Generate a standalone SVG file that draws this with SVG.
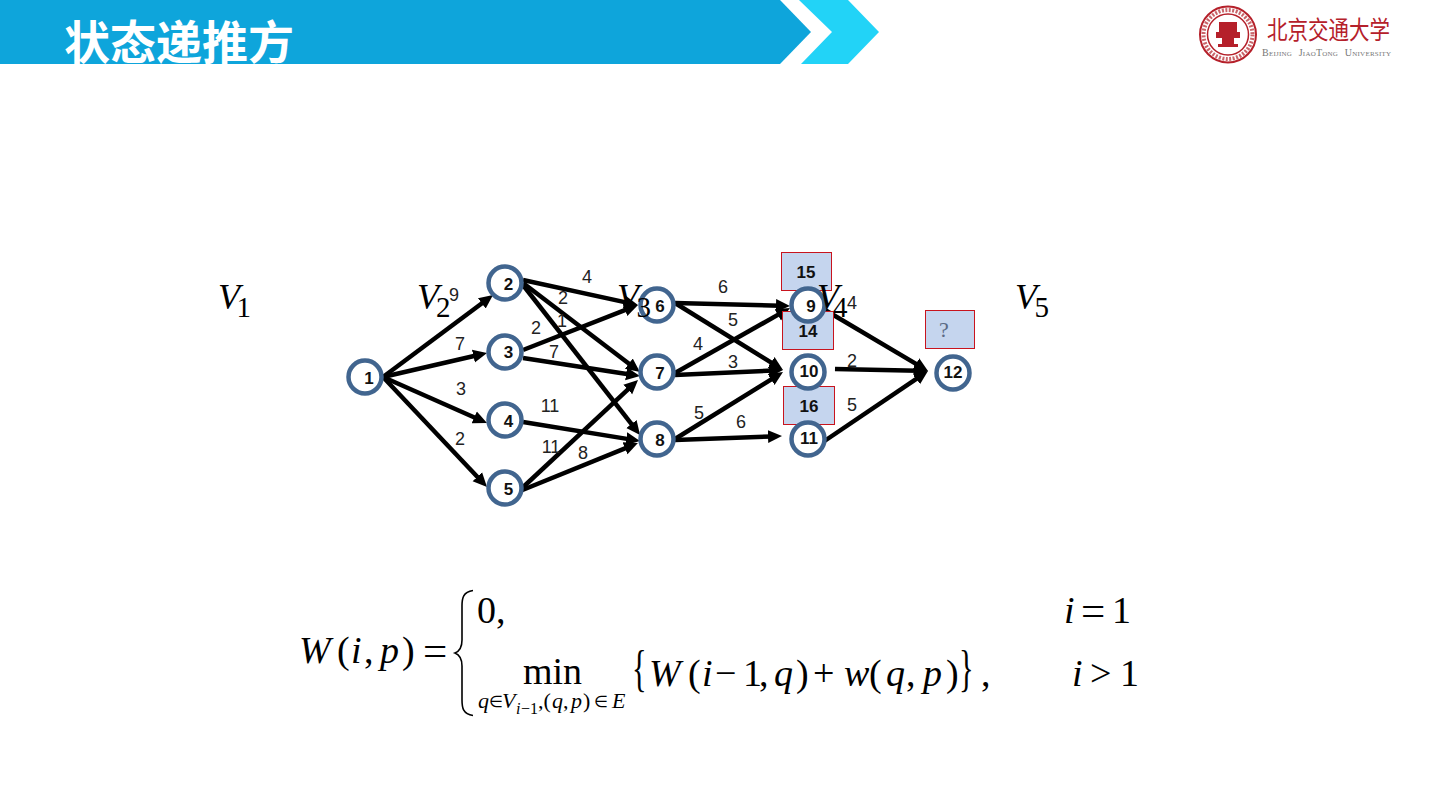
<svg xmlns="http://www.w3.org/2000/svg" width="1440" height="810" viewBox="0 0 1440 810">
<style>
.edge{stroke:#000;stroke-width:4.500;fill:none;marker-end:url(#arrow)}
.node circle{fill:#fff;stroke:#41658f;stroke-width:4.500}
.node text,.box text{font:bold 17px "Liberation Sans",Arial,sans-serif;fill:#111;text-anchor:middle}
.box rect{fill:#c5d5ee;stroke:#c8141e;stroke-width:1}
.w{font:18px "Liberation Sans",Arial,sans-serif;fill:#222;text-anchor:middle}
.m{font-family:"Liberation Serif","Times New Roman",serif;fill:#000}
.i{font-style:italic}
.f{font-size:38px}
.s{font-size:22px}
.e{font-size:16px}
.t{font-size:16px}
.vv{font-size:36px;font-style:italic}
.vs{font-size:29px}
</style>
<defs>
<marker id="arrow" markerUnits="userSpaceOnUse" markerWidth="16" markerHeight="16" refX="4" refY="8" orient="auto"><polygon points="0,1.500 14,8 0,14.500" fill="#000"/></marker>
<clipPath id="band"><rect x="0" y="0" width="790" height="64"/></clipPath>
</defs>
<rect width="1440" height="810" fill="#fff"/>
<g id="header">
<polygon points="0,0 780,0 811,32 780,64 0,64" fill="#0ea5db"/>
<polygon points="799,0 848,0 879,32 848,64 801,64 832,32" fill="#22d3f7"/>
<text x="64" y="59" clip-path="url(#band)" font-family="'Noto Sans CJK SC',sans-serif" font-weight="700" font-size="46" fill="#fff">状态递推方</text>
</g>
<g id="logo">
<circle cx="1228" cy="34.500" r="28" fill="#fff" stroke="#b5202a" stroke-width="2"/>
<circle cx="1228" cy="34.500" r="24.500" fill="none" stroke="#c9656a" stroke-width="4" stroke-dasharray="2 1.500"/>
<circle cx="1228" cy="34.500" r="20.500" fill="#fff" stroke="#b5202a" stroke-width="1.500"/>
<path d="M1219 22h18v10h3v6h-6v6h4v3h-20v-3h4v-6h-6v-6h3z" fill="#b5202a"/>
<text x="1267" y="39" textLength="123" lengthAdjust="spacingAndGlyphs" font-family="'Noto Sans CJK SC',sans-serif" font-size="25" fill="#b5202a">北京交通大学</text>
<text x="1262" y="56" textLength="129" lengthAdjust="spacing" font-family="'Liberation Serif',serif" font-size="10" style="font-variant:small-caps" word-spacing="4" fill="#777">Beijing JiaoTong University</text>
</g>
<g id="connectors">
<line class="edge" x1="383" y1="377" x2="485" y2="301"/>
<line class="edge" x1="383" y1="377" x2="477.300" y2="355.300"/>
<line class="edge" x1="383" y1="377" x2="477.900" y2="419"/>
<line class="edge" x1="383" y1="377" x2="480.100" y2="479.700"/>
<line class="edge" x1="523" y1="280" x2="628.200" y2="302.900"/>
<line class="edge" x1="523" y1="283" x2="632" y2="366"/>
<line class="edge" x1="523" y1="285" x2="633.900" y2="427.100"/>
<line class="edge" x1="523" y1="350" x2="628.700" y2="308.600"/>
<line class="edge" x1="523" y1="358" x2="630.100" y2="374.500"/>
<line class="edge" x1="523" y1="422" x2="630.100" y2="439.400"/>
<line class="edge" x1="520" y1="490" x2="630.700" y2="386.800"/>
<line class="edge" x1="520" y1="491" x2="628.700" y2="446.800"/>
<line class="edge" x1="675" y1="303" x2="780" y2="305.700"/>
<line class="edge" x1="675" y1="303" x2="774.500" y2="364.700"/>
<line class="edge" x1="675" y1="373" x2="781.300" y2="312.900"/>
<line class="edge" x1="675" y1="375" x2="773" y2="370.500"/>
<line class="edge" x1="675" y1="439" x2="774.500" y2="377.300"/>
<line class="edge" x1="675" y1="440" x2="772" y2="436.400"/>
<line class="edge" x1="825" y1="310" x2="919.400" y2="365.900"/>
<line class="edge" x1="835" y1="369" x2="918" y2="370.800"/>
<line class="edge" x1="823" y1="442" x2="919.700" y2="376.600"/>
</g>
<g id="edge-labels">
<text class="w" x="454" y="301">9</text><text class="w" x="460" y="350">7</text><text class="w" x="461" y="395">3</text><text class="w" x="460" y="445">2</text>
<text class="w" x="587" y="283">4</text><text class="w" x="563" y="304">2</text><text class="w" x="562" y="327">1</text><text class="w" x="536" y="334">2</text><text class="w" x="554" y="358">7</text>
<text class="w" x="550" y="412">11</text><text class="w" x="551" y="453">11</text><text class="w" x="583" y="459">8</text>
<text class="w" x="723" y="293">6</text><text class="w" x="733" y="326">5</text><text class="w" x="698" y="350">4</text><text class="w" x="733" y="368">3</text><text class="w" x="699" y="419">5</text><text class="w" x="741" y="428">6</text>
<text class="w" x="852" y="309">4</text><text class="w" x="852" y="367">2</text><text class="w" x="852" y="411">5</text>
</g>
<g id="box-15" class="box"><rect x="781.500" y="252.500" width="50" height="38"/><text x="806" y="278">15</text></g>
<g id="box-14" class="box"><rect x="782.500" y="311.500" width="51" height="38"/><text x="808" y="337">14</text></g>
<g id="box-16" class="box"><rect x="783.500" y="386.500" width="51" height="38"/><text x="809" y="412">16</text></g>
<g id="box-q" class="box"><rect x="925.500" y="310.500" width="49" height="38"/><text x="944" y="337" style="font:22px 'Liberation Serif',serif;fill:#5a6a85">?</text></g>
<g id="n1" class="node"><circle cx="365" cy="377" r="16.500"/><text x="369" y="384">1</text></g>
<g id="n2" class="node"><circle cx="505" cy="283" r="16.500"/><text x="508.500" y="290">2</text></g>
<g id="n3" class="node"><circle cx="505" cy="352" r="16.500"/><text x="508.500" y="358">3</text></g>
<g id="n4" class="node"><circle cx="505" cy="420" r="16.500"/><text x="508.500" y="427">4</text></g>
<g id="n5" class="node"><circle cx="505" cy="488" r="16.500"/><text x="508.500" y="495">5</text></g>
<g id="n6" class="node"><circle cx="657" cy="305" r="16.500"/><text x="660" y="312">6</text></g>
<g id="n7" class="node"><circle cx="657" cy="372" r="16.500"/><text x="660" y="379">7</text></g>
<g id="n8" class="node"><circle cx="657" cy="439" r="16.500"/><text x="660" y="446">8</text></g>
<g id="n9" class="node"><circle cx="808" cy="305" r="16.500"/><text x="811" y="312">9</text></g>
<g id="n10" class="node"><circle cx="808" cy="372" r="16.500"/><text x="809" y="377">10</text></g>
<g id="n11" class="node"><circle cx="808" cy="439" r="16.500"/><text x="809" y="444">11</text></g>
<g id="n12" class="node"><circle cx="953" cy="373" r="16.500"/><text x="953" y="378">12</text></g>
<g id="layer-labels" class="m">
<text x="218" y="309" class="vv">V</text><text x="236.500" y="317" class="vs">1</text>
<text x="417" y="309" class="vv">V</text><text x="436" y="317" class="vs">2</text>
<text x="617" y="309" class="vv">V</text><text x="636.500" y="317" class="vs">3</text>
<text x="817" y="309" class="vv">V</text><text x="833" y="317" class="vs">4</text>
<text x="1015" y="309" class="vv">V</text><text x="1034.500" y="317" class="vs">5</text>
</g>
<g id="formula" class="m">
<text class="f i" x="299" y="663">W</text><text class="f" x="337" y="663">(</text><text class="f i" x="351" y="663">i</text><text class="f" x="364" y="663">,</text><text class="f i" x="380" y="663">p</text><text class="f" x="402" y="663">)</text><text x="423" y="665" style="font-size:43px">=</text>
<path d="M473 590.500C463 592 462 598 462 606V640C462 647 460 651 455 653C460 655 462 659 462 666V700C462 708 463 714 473 715.500" fill="none" stroke="#000" stroke-width="1.600"/>
<text class="f" x="477" y="623">0,</text>
<text class="f" x="523" y="684">min</text>
<text class="s i" x="478" y="708">q</text><text class="e" x="489" y="707">∈</text><text class="s i" x="502" y="708">V</text><text class="t i" x="516" y="714">i</text><text class="t" x="521" y="714">−1</text><text class="s" x="538" y="708">,(</text><text class="s i" x="552" y="708">q</text><text class="s" x="563" y="708">,</text><text class="s i" x="571" y="708">p</text><text class="s" x="583" y="708">)</text><text class="e" x="594" y="707">∈</text><text class="s i" x="612" y="708">E</text>
<text transform="translate(632 685) scale(.8 1.350)" style="font-size:38px">{</text>
<text class="f i" x="649" y="686">W</text><text class="f" x="688" y="686">(</text><text class="f i" x="702" y="686">i</text><text class="f" x="715" y="686">−</text><text class="f" x="743" y="686">1</text><text class="f" x="759" y="686">,</text><text class="f i" x="774" y="686">q</text><text class="f" x="796" y="686">)</text><text class="f" x="813" y="686">+</text><text class="f i" x="844" y="686">w</text><text class="f" x="869" y="686">(</text><text class="f i" x="886" y="686">q</text><text class="f" x="906" y="686">,</text><text class="f i" x="923" y="686">p</text><text class="f" x="946" y="686">)</text>
<text transform="translate(959 685) scale(.8 1.350)" style="font-size:38px">}</text><text class="f" x="981" y="686">,</text>
<text class="f i" x="1064" y="623">i</text><text x="1081" y="625" style="font-size:43px">=</text><text class="f" x="1112" y="623">1</text>
<text class="f i" x="1072" y="686">i</text><text class="f" x="1090" y="686">&gt;</text><text class="f" x="1120" y="686">1</text>
</g>
</svg>
